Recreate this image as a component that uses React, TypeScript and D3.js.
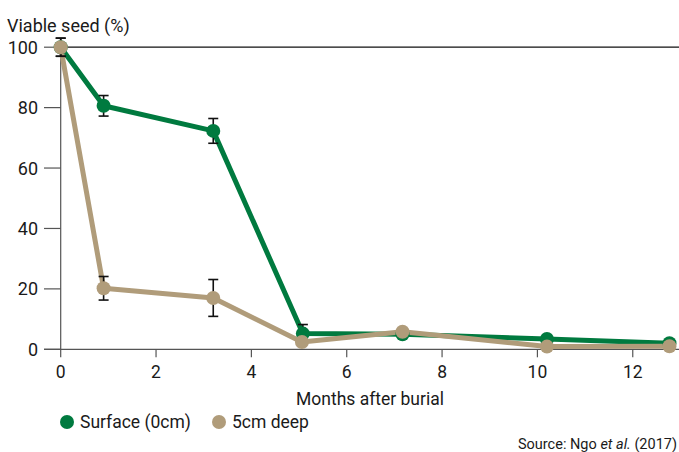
import React from "react";
import * as d3 from "d3";

const months = [0, 0.9, 3.2, 5.08, 7.17, 10.2, 12.77];
const surface = [100, 80.6, 72.3, 5.2, 5.0, 3.4, 2.0];
const surfaceErr = [3, 3.4, 4.1, 3, 0, 0, 0];
const deepMonths = [0, 0.9, 3.2, 5.06, 7.17, 10.2, 12.77];
const deep = [100, 20.2, 17.0, 2.4, 5.8, 0.9, 1.0];
const deepErr = [3, 3.9, 6.1, 0, 0, 0, 0];
const xTicks = [0, 2, 4, 6, 8, 10, 12];
const yTicks = [0, 20, 40, 60, 80, 100];
const seriesNames = ["Surface (0cm)", "5cm deep"];

const GREEN = "#007a3f";
const TAN = "#b09c7a";
const FONT = "Roboto, 'Noto Sans', sans-serif";

export default function App() {
  const W = 679, H = 452;
  const x = d3.scaleLinear().domain([0, 12.97]).range([60.7, 679]);
  const y = d3.scaleLinear().domain([0, 100]).range([349.3, 47.2]);
  const line = d3.line<[number, number]>().x(d => x(d[0])).y(d => y(d[1]));
  const sPts = months.map((m, i) => [m, surface[i]] as [number, number]);
  const dPts = deepMonths.map((m, i) => [m, deep[i]] as [number, number]);

  const errBars = (ms: number[], vals: number[], errs: number[], key: string) =>
    ms.map((m, i) =>
      errs[i] > 0 ? (
        <g key={key + i} stroke="#111" strokeWidth={1.6}>
          <line x1={x(m)} x2={x(m)} y1={y(vals[i] + errs[i])} y2={y(vals[i] - errs[i])} />
          <line x1={x(m) - 5} x2={x(m) + 5} y1={y(vals[i] + errs[i])} y2={y(vals[i] + errs[i])} />
          <line x1={x(m) - 5} x2={x(m) + 5} y1={y(vals[i] - errs[i])} y2={y(vals[i] - errs[i])} />
        </g>
      ) : null
    );

  return (
    <svg width={W} height={H} style={{ position: "absolute", left: 0, top: 0, background: "#fff" }} fontFamily={FONT}>
      <text x={7} y={32} fontSize={18} fill="#1a1a1a">Viable seed (%)</text>
      <line x1={x(0)} x2={W} y1={y(100)} y2={y(100)} stroke="#111" strokeWidth={1.2} />
      <line x1={x(0)} x2={x(0)} y1={y(100)} y2={y(0)} stroke="#555" strokeWidth={1.2} />
      {yTicks.map(t => (
        <g key={"y" + t}>
          <line x1={44} x2={x(0)} y1={y(t)} y2={y(t)} stroke="#555" strokeWidth={1.2} />
          <text x={38} y={y(t) + 6.5} fontSize={18} textAnchor="end" fill="#1a1a1a">{t}</text>
        </g>
      ))}
      <line x1={44} x2={W} y1={y(0)} y2={y(0)} stroke="#555" strokeWidth={1.2} />
      {xTicks.map(t => (
        <g key={"x" + t}>
          <line x1={x(t)} x2={x(t)} y1={y(0)} y2={y(0) + 8} stroke="#555" strokeWidth={1.2} />
          <text x={x(t)} y={378} fontSize={17.5} textAnchor="middle" fill="#1a1a1a">{t}</text>
        </g>
      ))}
      <text x={370} y={405} fontSize={17.5} textAnchor="middle" fill="#1a1a1a">Months after burial</text>

      <path d={line(sPts) || ""} fill="none" stroke={GREEN} strokeWidth={5} strokeLinejoin="round" />
      <path d={line(dPts) || ""} fill="none" stroke={TAN} strokeWidth={5} strokeLinejoin="round" />
      {errBars(months, surface, surfaceErr, "se")}
      {errBars(deepMonths, deep, deepErr, "de")}
      {sPts.map((p, i) => (
        <circle key={"sc" + i} cx={x(p[0])} cy={y(p[1])} r={7} fill={GREEN} />
      ))}
      {dPts.map((p, i) => (
        <circle key={"dc" + i} cx={x(p[0])} cy={y(p[1])} r={7} fill={TAN} />
      ))}

      <circle cx={67} cy={422} r={7} fill={GREEN} />
      <text x={80} y={428} fontSize={17.5} fill="#1a1a1a">{seriesNames[0]}</text>
      <circle cx={219} cy={422} r={7} fill={TAN} />
      <text x={232} y={428} fontSize={17.5} fill="#1a1a1a">{seriesNames[1]}</text>

      <text x={677} y={449} fontSize={14.5} textAnchor="end" fill="#1a1a1a">
        Source: Ngo <tspan fontStyle="italic">et al.</tspan> (2017)
      </text>
    </svg>
  );
}
